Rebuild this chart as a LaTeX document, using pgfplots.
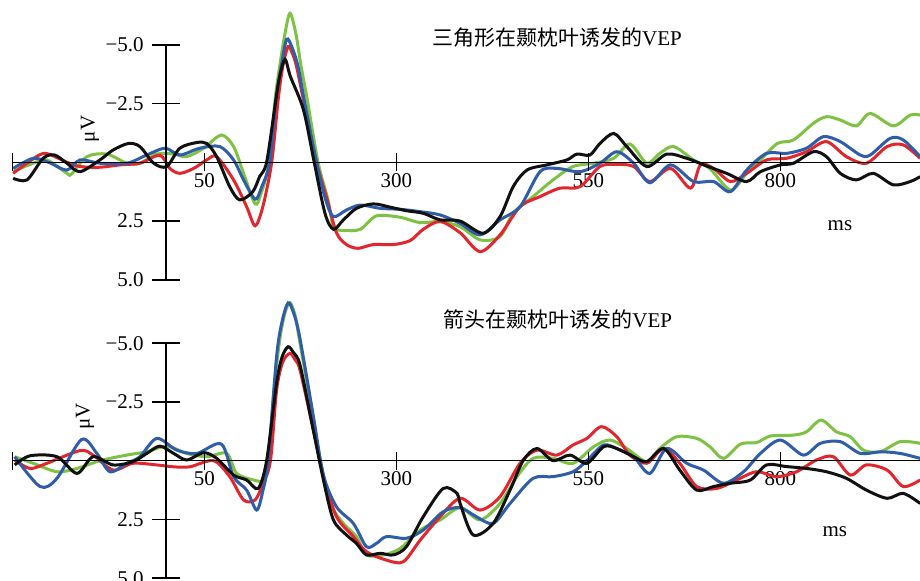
\documentclass[border=0pt]{standalone}
\usepackage{fontspec}
\setmainfont{Liberation Serif}
\newfontfamily\cjk{Noto Sans CJK SC}
\usepackage{pgfplots}
\pgfplotsset{compat=1.18}
\definecolor{cr}{HTML}{E3262E}
\definecolor{cb}{HTML}{2F5DAA}
\definecolor{cg}{HTML}{7DC242}
\definecolor{ck}{HTML}{111111}
\newcommand{\fs}{\fontsize{10.5}{12}\selectfont}
\pgfplotsset{vep/.style={
  scale only axis, width=453.8pt, height=145pt,
  xmin=-200, xmax=981.8,
  y dir=reverse, axis lines=middle, axis line style={draw=none},
  major tick length=0pt, tick style={draw=none},
  xtick={50,300,550,800}, xticklabels={50,300,550,800},
  ytick={-5,-2.5,2.5,5}, yticklabels={−5.0,−2.5,2.5,5.0},
  xticklabel style={anchor=center, inner sep=0pt, yshift=-9pt, font=\fs},
  yticklabel style={anchor=east, inner sep=0pt, xshift=-11pt, font=\fs},
  every axis plot/.append style={line width=1.5pt, smooth, tension=0.5, no markers},
  clip=false,
}}
\newcommand{\axesdeco}{%
  \draw[line width=0.75pt] (axis cs:-200,0) -- (axis cs:981.8,0);
  \draw[line width=0.75pt] (axis cs:0,-5) -- (axis cs:0,5);
  \draw[line width=0.75pt] (axis cs:-18.2,-5) -- (axis cs:18.2,-5);
  \draw[line width=0.75pt] (axis cs:-18.2,-2.5) -- (axis cs:18.2,-2.5);
  \draw[line width=0.75pt] (axis cs:-18.2,2.5) -- (axis cs:18.2,2.5);
  \draw[line width=0.75pt] (axis cs:-18.2,5) -- (axis cs:18.2,5);
  \draw[line width=0.75pt] (axis cs:-200,-0.38) -- (axis cs:-200,0.38);
  \draw[line width=0.75pt] (axis cs:50,-0.38) -- (axis cs:50,0.38);
  \draw[line width=0.75pt] (axis cs:300,-0.38) -- (axis cs:300,0.38);
  \draw[line width=0.75pt] (axis cs:550,-0.38) -- (axis cs:550,0.38);
  \draw[line width=0.75pt] (axis cs:800,-0.38) -- (axis cs:800,0.38);
}
\begin{document}
\begin{tikzpicture}
\begin{axis}[vep, at={(6.2pt,145pt)}, anchor=south west, ymin=-6.906, ymax=5.434]
\addplot[cg] coordinates {(-199,0.40)(-173,0.04)(-155,-0.10)(-129,0.47)(-123,0.50)(-103,-0.24)(-77,-0.35)(-51,0.04)(-34,0.04)(-12,-0.35)(10,-0.35)(27,-0.24)(49,-0.60)(72,-1.16)(88,-0.67)(101,0.47)(116,1.77)(124,1.3)(134.5,0)(142,-2.65)(148,-4.07)(155,-5.49)(161.5,-6.34)(169,-5.49)(176,-4.07)(184,-2.65)(198,0)(211,1.6)(218,2.74)(231,2.90)(253,2.85)(274,2.28)(305,2.34)(331,2.57)(357,2.52)(383,2.74)(409,3.30)(435,3.16)(452,2.17)(478,1.46)(504,0.75)(530,0.18)(557,0.04)(583,-0.17)(604,-0.78)(626,0.04)(643,-0.38)(661,-0.67)(687,-0.10)(708,0.26)(735,1.18)(756,0.47)(774,-0.10)(796,-0.80)(817,-0.95)(843,-1.66)(860,-1.94)(878,-1.80)(899,-1.55)(917,-2.08)(947,-1.55)(969,-2.01)(982,-2.01)};
\addplot[cr] coordinates {(-199,0.47)(-181,0.04)(-158,-0.38)(-129,0)(-112,0.18)(-86,0.21)(-60,0.11)(-34,0.04)(-8,-0.30)(5,0.26)(18,0.47)(36,0.26)(53,-0.10)(66,-0.24)(88,0.75)(105,1.89)(116,2.70)(126,1.9)(137.6,0)(146,-2.65)(152,-4.07)(159,-4.92)(165,-4.6)(170,-4.07)(179,-2.65)(196,0)(210,1.6)(222,3.0)(235,3.5)(250,3.66)(270,3.5)(296,3.5)(318,3.33)(335,2.85)(357,2.52)(383,3.0)(409,3.8)(435,3.09)(461,1.89)(487,1.46)(513,1.10)(539,1.04)(565,0.18)(587,0.09)(609,0.18)(630,0.82)(657,0.26)(683,1.10)(696,0.11)(713,0.26)(735,0.82)(756,0.47)(782,-0.10)(808,-0.17)(834,-0.45)(860,-0.88)(886,-0.24)(912,0.04)(939,-0.67)(960,-0.74)(982,-0.17)};
\addplot[cb] coordinates {(-199,0.26)(-173,-0.17)(-153,0)(-129,0.33)(-112,-0.10)(-86,0.04)(-51,0.04)(-25,-0.31)(-1,-0.60)(18,-0.31)(44,-0.60)(70,-0.67)(88,-0.10)(101,0.75)(116,1.57)(124,1.1)(135,0)(143,-2.65)(150,-4.07)(157,-5.23)(164,-4.9)(172,-4.07)(180,-2.65)(196,0)(208,1.6)(218,2.31)(235,2.03)(253,1.82)(279,1.96)(305,2.0)(331,2.1)(357,2.24)(383,2.6)(409,3.09)(435,2.45)(461,1.89)(487,0.40)(509,0.26)(539,0.40)(565,0.04)(587,-0.45)(609,0.04)(630,0.87)(657,0.11)(687,0.82)(713,0.82)(735,1.25)(756,0.33)(782,-0.38)(808,-0.38)(834,-0.60)(856,-1.09)(878,-0.88)(904,-0.31)(917,-0.31)(943,-1.02)(960,-0.95)(982,-0.24)};
\addplot[ck] coordinates {(-199,0.68)(-181,0.75)(-160,-0.17)(-145,-0.31)(-129,0.04)(-112,0.40)(-86,-0.10)(-69,-0.52)(-49,-0.80)(-34,-0.67)(-16,0.04)(1,0.18)(18,-0.60)(40,-0.84)(53,-0.80)(66,-0.24)(83,1.04)(96,1.60)(113,1.25)(122,0.6)(131,0)(143,-2.65)(148,-3.65)(155,-4.38)(162,-3.65)(179,-2.23)(193,0)(207,2.17)(218,2.85)(231,2.45)(248,1.96)(270,1.77)(292,1.91)(313,2.06)(335,2.17)(357,2.45)(383,2.5)(413,3.02)(435,2.31)(452,1.04)(470,0.33)(496,0.11)(522,-0.10)(535,-0.35)(552,-0.31)(565,-0.80)(583,-1.23)(600,-0.67)(626,0.18)(652,-0.35)(678,-0.17)(704,0.16)(730,0.47)(756,0.82)(774,0.40)(800,0.11)(817,0.04)(843,-0.45)(860,-0.24)(878,0.47)(899,0.75)(921,0.47)(947,0.96)(969,0.82)(982,0.61)};
\axesdeco
\node[anchor=west, inner sep=0pt, font=\fs] at (axis cs:346,-5.31) {{\cjk 三角形在颞枕叶诱发的}VEP};
\node[rotate=90, inner sep=0pt, font=\fs] at (axis cs:-99,-1.42) {μV};
\node[inner sep=0pt, font=\fs] at (axis cs:877.6,2.71) {ms};
\end{axis}
\begin{axis}[vep, at={(6.2pt,0pt)}, anchor=south west, ymin=-7.264, ymax=5.077]
\addplot[cg] coordinates {(-197,-0.17)(-173,0.11)(-142,0.47)(-116,0.33)(-86,0)(-51,-0.24)(-25,-0.38)(1,-0.62)(27,-0.31)(53,-0.17)(79,-0.31)(92,0.54)(114,0.82)(127,0.82)(133,0)(140.6,-3.0)(148,-5.13)(155,-6.3)(161.5,-6.72)(168,-6.2)(173,-5.28)(187.5,-2.58)(201,0)(214,1.82)(231,2.67)(248,3.23)(261,4.01)(283,4.01)(305,3.73)(331,2.95)(357,2.52)(383,2.0)(409,2.52)(435,1.82)(457,0.68)(478,-0.10)(504,-0.10)(530,0.11)(557,-0.60)(578,-0.88)(600,-0.52)(626,0.04)(643,-0.52)(665,-1.02)(691,-0.95)(708,-0.60)(726,-0.10)(748,-0.71)(769,-0.77)(787,-1.05)(817,-1.09)(834,-1.23)(853,-1.73)(873,-1.23)(891,-1.02)(908,-0.45)(930,-0.38)(956,-0.81)(982,-0.74)};
\addplot[cr] coordinates {(-197,-0.03)(-177,0.33)(-155,0.11)(-112,-0.43)(-95,-0.24)(-69,0.40)(-43,0.11)(-12,0.18)(10,0.26)(31,0.26)(62,0)(83,0.68)(101,1.67)(116,1.67)(126,1.0)(136,0)(144,-3.0)(152,-4.2)(161.5,-4.57)(168,-4.3)(174.5,-3.86)(190,-1.59)(200.5,0)(205,0.68)(222,2.38)(244,3.23)(261,3.87)(287,4.23)(309,4.30)(331,3.38)(357,2.38)(383,1.6)(409,2.10)(435,1.53)(461,0.11)(483,-0.45)(509,-0.24)(530,-0.67)(548,-0.95)(567,-1.45)(587,-1.02)(604,-0.24)(626,0.11)(648,-0.52)(669,0.11)(691,1.10)(717,1.18)(743,0.82)(769,0.47)(795,0.68)(821,0.47)(847,-0.03)(869,-0.17)(891,0.61)(912,0.18)(939,0.40)(960,1.10)(982,0.82)};
\addplot[cb] coordinates {(-197,-0.17)(-164,1.10)(-142,0.75)(-110,-0.90)(-90,-0.31)(-73,0.47)(-51,0.11)(-34,-0.17)(-12,-0.95)(14,-0.45)(40,-0.31)(72,-0.71)(88,0.68)(105,1.25)(118,2.10)(126,1.3)(133,0)(144,-4.43)(151,-5.9)(159,-6.72)(166,-6.3)(174,-5.28)(192,-1.87)(205,0.61)(222,1.96)(244,2.67)(261,3.66)(274,3.52)(287,3.23)(313,3.30)(335,2.95)(361,2.17)(383,2.0)(404,2.38)(426,2.67)(448,1.82)(478,0.75)(504,0.68)(530,0.47)(548,0)(570,-0.67)(591,-0.45)(609,-0.17)(630,0.54)(652,-0.52)(678,0.11)(700,0.40)(726,0.96)(752,0.47)(774,-0.31)(800,-0.88)(830,-0.24)(852,-0.74)(878,-0.81)(904,-0.31)(930,-0.38)(956,-0.31)(982,-0.10)};
\addplot[ck] coordinates {(-197,0.18)(-177,-0.21)(-142,-0.17)(-116,0.54)(-95,-0.17)(-69,0.18)(-43,0.04)(-25,-0.31)(-8,-0.62)(10,-0.31)(27,-0.03)(49,-0.34)(66,-0.10)(88,0.61)(105,0.82)(120,1.18)(131,0)(144,-3.29)(151,-4.4)(159,-4.85)(166,-4.6)(174.5,-4.07)(190,-1.59)(205,0.82)(218,2.52)(235,3.16)(248,3.52)(261,4.01)(279,3.94)(296,4.01)(313,3.66)(335,2.38)(361,1.18)(379,1.39)(383,1.82)(400,3.16)(426,2.67)(448,1.25)(465,0)(483,-0.52)(504,0)(526,-0.24)(548,0.11)(570,-0.60)(587,-0.52)(609,-0.17)(626,0.04)(648,-0.52)(669,0.40)(691,1.25)(713,1.10)(735,0.96)(761,0.82)(782,0.18)(808,0.25)(834,0.33)(860,0.47)(886,0.75)(912,1.25)(939,1.60)(960,1.39)(982,1.82)};
\axesdeco
\node[anchor=west, inner sep=0pt, font=\fs] at (axis cs:360.7,-6.01) {{\cjk 箭头在颞枕叶诱发的}VEP};
\node[rotate=90, inner sep=0pt, font=\fs] at (axis cs:-105.5,-1.90) {μV};
\node[inner sep=0pt, font=\fs] at (axis cs:871,3.03) {ms};
\end{axis}
\pgfresetboundingbox
\useasboundingbox (0,0) rectangle (460pt,290pt);
\end{tikzpicture}
\end{document}
